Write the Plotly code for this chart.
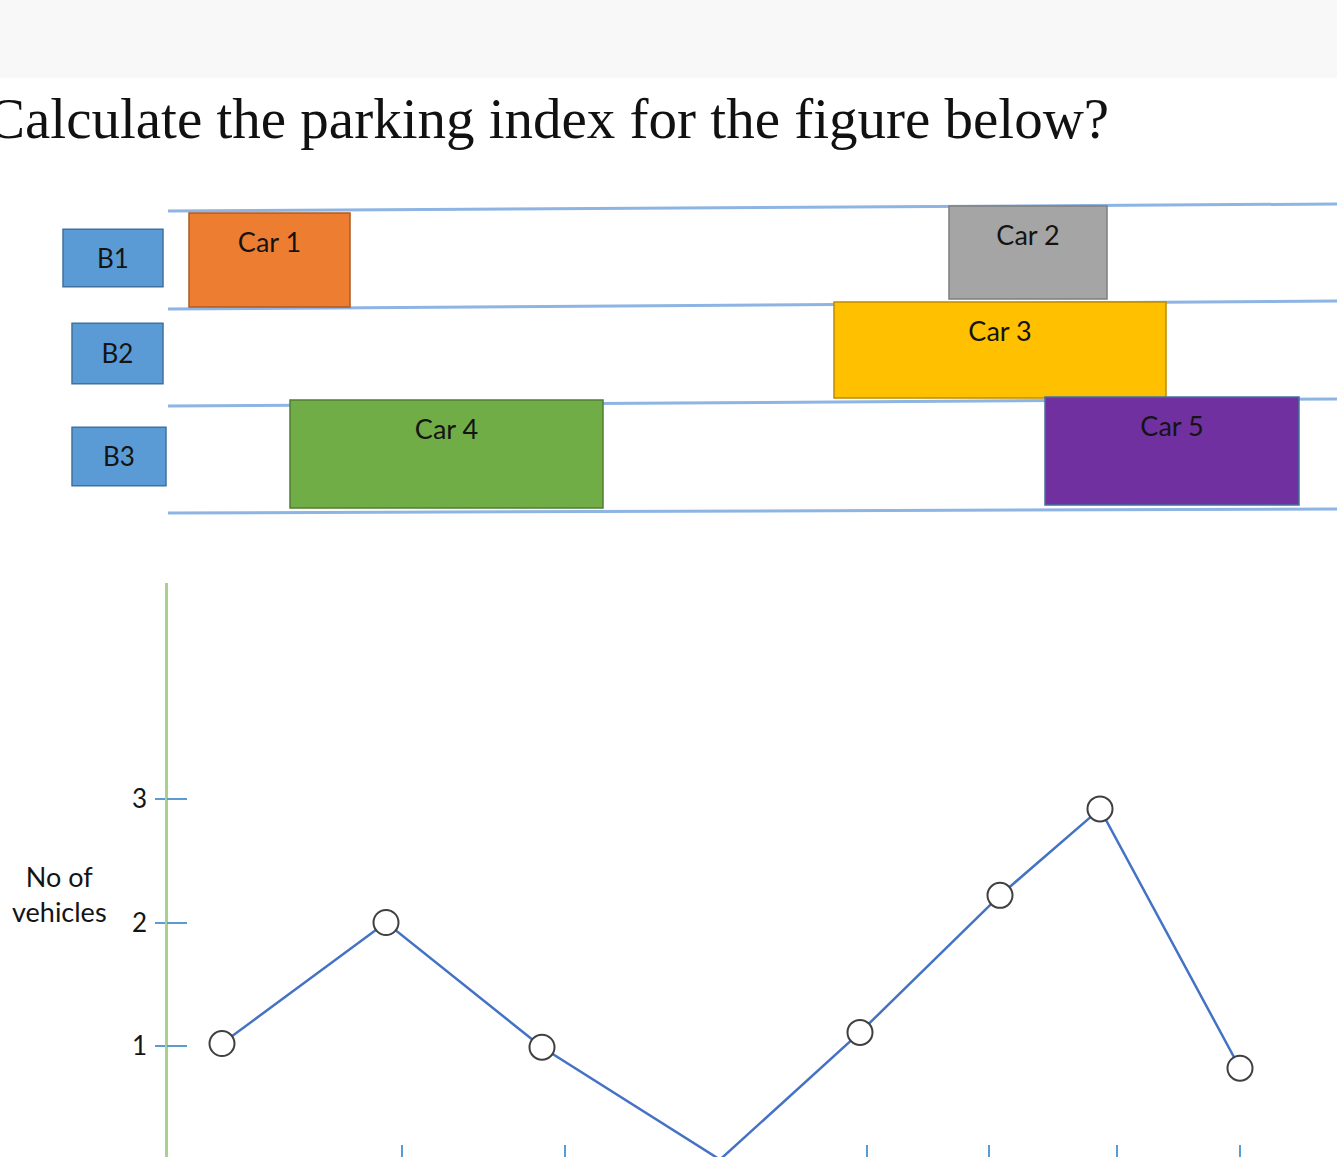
import plotly.graph_objects as go

# ---------------- data ----------------
title_text = "Calculate the parking index for the figure below?"

# parking diagram (x = time units, y = bay units, 0 = top line of B1)
bay_names = ["B1", "B2", "B3"]
bay_box_left = [63, 72, 72]
bay_box_right = [163, 163, 166]
bay_box_top = [0.22, 1.15, 2.18]
bay_box_bottom = [0.79, 1.75, 2.76]

lane_x = [168, 1337]
lane_left = [0.04, 1.01, 1.97, 3.03]
lane_right = [-0.03, 0.93, 1.90, 2.99]

car_names = ["Car 1", "Car 2", "Car 3", "Car 4", "Car 5"]
car_start = [189, 949, 834, 290, 1045]
car_end = [350, 1107, 1166, 603, 1299]
car_top = [0.06, -0.01, 0.94, 1.91, 1.88]
car_bottom = [0.99, 0.91, 1.89, 2.98, 2.95]
car_fill = ["#ED7D31", "#A5A5A5", "#FFC000", "#70AD47", "#7030A0"]
car_edge = ["#AE5A21", "#7F7F7F", "#BC8C00", "#507E32", "#41719C"]

# vehicles curve
time_pts = [222, 386, 542, 720, 860, 1000, 1100, 1240]
vehicles = [1.02, 2.0, 0.99, 0.08, 1.11, 2.22, 2.92, 0.82]
y_ticks = [1, 2, 3]
x_ticks = [402, 565, 867, 989, 1117, 1240]

FONT = "Lato"
TXT = "#141414"

fig = go.Figure()

# lane lines (drawn beneath the cars)
for a, b in zip(lane_left, lane_right):
    fig.add_shape(type="line", xref="x", yref="y2",
                  x0=lane_x[0], x1=lane_x[1], y0=a, y1=b,
                  line=dict(color="#8DB4E2", width=3), layer="below")

# bay label boxes
fig.add_trace(go.Bar(
    orientation="h", yaxis="y2",
    base=bay_box_left,
    x=[r - l for l, r in zip(bay_box_left, bay_box_right)],
    y=[(t + b) / 2 for t, b in zip(bay_box_top, bay_box_bottom)],
    width=[b - t for t, b in zip(bay_box_top, bay_box_bottom)],
    marker=dict(color="#5B9BD5", line=dict(color="#41719C", width=1.5)),
    text=bay_names, textposition="inside", insidetextanchor="middle",
    constraintext="none",
    textfont=dict(family=FONT, size=26, color=TXT),
))

# cars
fig.add_trace(go.Bar(
    orientation="h", yaxis="y2",
    base=car_start,
    x=[e - s for s, e in zip(car_start, car_end)],
    y=[(t + b) / 2 for t, b in zip(car_top, car_bottom)],
    width=[b - t for t, b in zip(car_top, car_bottom)],
    marker=dict(color=car_fill, line=dict(color=car_edge, width=1.5)),
    hoverinfo="skip",
))
fig.add_trace(go.Scatter(
    x=[(s + e) / 2 for s, e in zip(car_start, car_end)],
    y=[t + 0.32 for t in car_top],
    yaxis="y2", mode="text", text=car_names,
    textfont=dict(family=FONT, size=27, color=TXT),
))

# vehicles line
fig.add_trace(go.Scatter(
    x=time_pts, y=vehicles, mode="lines+markers",
    line=dict(color="#4472C4", width=2.5),
    marker=dict(symbol="circle", size=25, color="white",
                line=dict(color="#3F3F3F", width=2)),
    cliponaxis=False,
))
# helper (inner tick half of y axis)
fig.add_trace(go.Scatter(x=[None], y=[None], yaxis="y3", mode="markers"))

fig.add_annotation(text=title_text, xref="paper", yref="paper",
                   x=-0.011, y=(1157 - 118) / 1157, xanchor="left", yanchor="middle",
                   showarrow=False,
                   font=dict(family="Liberation Serif", size=57, color="#111111"))
fig.add_annotation(text="No of<br>vehicles", xref="x", yref="y",
                   x=59, y=2.23, showarrow=False, align="center",
                   font=dict(family=FONT, size=27, color=TXT))

fig.add_shape(type="rect", xref="paper", yref="paper", x0=0, x1=1,
              y0=1 - 78 / 1157, y1=1, fillcolor="#F8F8F8", line=dict(width=0),
              layer="below")

yr = [0.1012, 4.749]
fig.update_layout(
    width=1337, height=1157,
    margin=dict(l=0, r=0, t=0, b=0),
    paper_bgcolor="white", plot_bgcolor="rgba(0,0,0,0)",
    showlegend=False, barmode="overlay",
    xaxis=dict(range=[0, 1337], domain=[0, 1], anchor="y",
               showgrid=False, zeroline=False, showline=False,
               ticks="inside", ticklen=12, tickwidth=2, tickcolor="#5B9BD5",
               tickvals=x_ticks, showticklabels=False),
    yaxis=dict(domain=[0, 0.4961], range=yr, anchor="free", position=166 / 1337,
               showgrid=False, zeroline=False, showline=True,
               linecolor="#A9D18E", linewidth=2.5,
               ticks="outside", ticklen=10, tickwidth=2, tickcolor="#5B9BD5",
               tickvals=y_ticks, ticklabelstandoff=3,
               tickfont=dict(family=FONT, size=26, color=TXT)),
    yaxis3=dict(overlaying="y", range=yr, anchor="free", position=166 / 1337,
                showgrid=False, zeroline=False, showline=False,
                ticks="inside", ticklen=20, tickwidth=2, tickcolor="#5B9BD5",
                tickvals=y_ticks, showticklabels=False),
    yaxis2=dict(domain=[0.5, 1], range=[3.678, -2.0495], anchor="free",
                position=0, visible=False),
)

fig.write_html("out.html", config={"displayModeBar": False},
               post_script="document.body.style.margin='0';document.body.style.overflow='hidden';")
